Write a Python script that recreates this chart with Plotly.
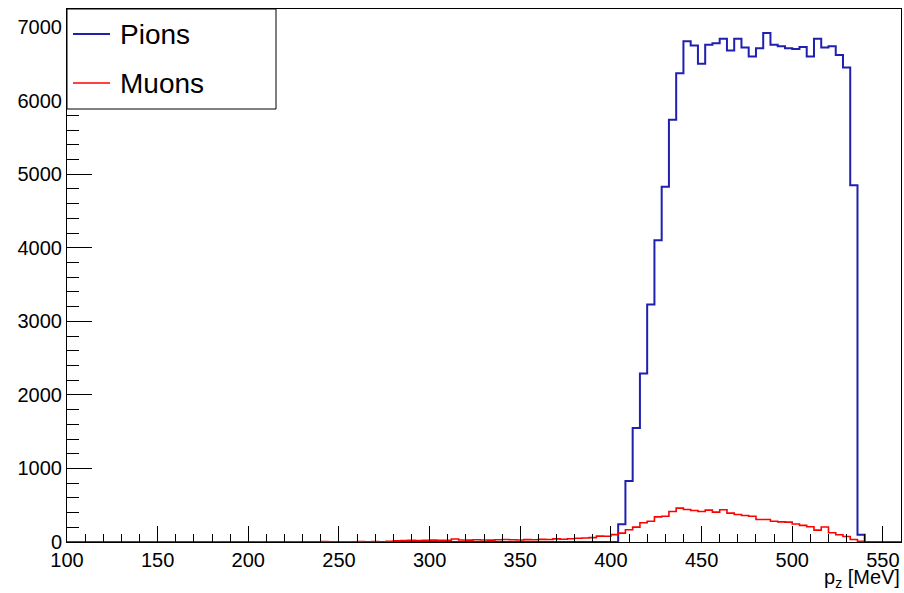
import plotly.graph_objects as go

# Histogram binning: 4 MeV bins from 100 to 560 MeV
bin_lo = 100
bin_width = 4
n_bins = 115
edges = [bin_lo + bin_width * k for k in range(n_bins + 1)]

# Pion counts per bin (p_z)
pions = [0] * 76 + [
    240, 830, 1550, 2290, 3230, 4100, 4830, 5740, 6370,
    6805, 6750, 6500, 6760, 6780, 6840, 6680, 6840, 6720, 6600,
    6710, 6920, 6760, 6740, 6710, 6700, 6730, 6600, 6840, 6720,
    6740, 6620, 6450,
    4850, 100,
] + [0] * 5

# Muon counts per bin (p_z)
muons = [
    0, 0, 0, 0, 0, 0, 0, 0, 0, 0,
    0, 0, 0, 0, 0, 0, 0, 0, 0, 0,
    2, 0, 0, 0, 0, 0, 3, 0, 0, 0,
    0, 4, 0, 0, 0, 5, 0, 0, 3, 0,
    5, 0, 6, 0, 8,
    18, 20, 22, 20, 22, 25, 22, 24, 40, 28,
    25, 30, 28, 26, 30, 34, 30, 28, 32, 30,
    36, 34, 42, 38, 45, 50, 55, 60, 80, 78,
    100, 120, 166, 202, 261, 283, 342, 351, 415, 460,
    442, 428, 415, 433, 406, 438, 392, 374, 360, 351,
    306, 306, 283, 274, 270, 245, 226, 207, 161, 204,
    125, 98, 75, 35, 10,
    0, 0, 0, 0, 0,
]

series = [("Pions", pions, "#1f1fb0", 2), ("Muons", muons, "#ff0000", 1.6)]


def step_xy(values):
    xs = edges[:-1] + [edges[-1]]
    ys = list(values) + [values[-1]]
    return xs, ys


fig = go.Figure()
for name, vals, color, width in series:
    xs, ys = step_xy(vals)
    fig.add_trace(go.Scatter(
        x=xs, y=ys, mode="lines", name=name,
        line=dict(color=color, width=width, shape="hv"),
        showlegend=False,
    ))

tick_font = dict(family="Liberation Sans, Arial, sans-serif", size=20, color="black")

fig.update_layout(
    width=904, height=593,
    margin=dict(l=67, r=3, t=9, b=51),
    paper_bgcolor="white", plot_bgcolor="white",
    xaxis=dict(
        range=[100, 560], showgrid=False, zeroline=False,
        showline=True, linecolor="black", linewidth=1, mirror=True,
        ticks="inside", ticklen=16, tickcolor="black", tickwidth=1,
        dtick=50, tick0=100, tickfont=tick_font,
        minor=dict(dtick=10, tick0=100, ticks="inside", ticklen=8,
                   tickcolor="black", tickwidth=1, showgrid=False),
    ),
    yaxis=dict(
        range=[0, 7245], showgrid=False, zeroline=False,
        showline=True, linecolor="black", linewidth=1, mirror=True,
        ticks="inside", ticklen=25, tickcolor="black", tickwidth=1,
        dtick=1000, tick0=0, tickformat="d", tickfont=tick_font,
        minor=dict(dtick=200, tick0=0, ticks="inside", ticklen=12,
                   tickcolor="black", tickwidth=1, showgrid=False),
    ),
)

# Axis title, right-aligned under the frame, bottom kept inside the page
fig.add_annotation(
    text="p<sub>z</sub> [MeV]", xref="paper", yref="paper",
    x=1, y=0, xanchor="right", yanchor="bottom", yshift=-50, showarrow=False,
    borderpad=0,
    font=dict(family="Liberation Sans, Arial, sans-serif", size=20, color="black"),
)

# Legend box in the top-left corner of the frame
plot_w = 904 - 67 - 3
plot_h = 593 - 9 - 51


def px_to_paper(px, py):
    return (px - 67) / plot_w, (593 - 51 - py) / plot_h


bx0, by0 = px_to_paper(67, 109)
bx1, by1 = px_to_paper(276, 9)
fig.add_shape(type="rect", xref="paper", yref="paper",
              x0=bx0, y0=by0, x1=bx1, y1=by1,
              line=dict(color="black", width=1), fillcolor="white", layer="above")

for (name, _, color, width), row_y in zip(series, [34, 83]):
    lx0, ly = px_to_paper(73, row_y)
    lx1, _ = px_to_paper(110, row_y)
    fig.add_shape(type="line", xref="paper", yref="paper",
                  x0=lx0, y0=ly, x1=lx1, y1=ly,
                  line=dict(color=color, width=width), layer="above")
    tx, _ = px_to_paper(118, row_y)
    fig.add_annotation(
        text=name, xref="paper", yref="paper", x=tx, y=ly,
        xanchor="left", yanchor="middle", showarrow=False,
        font=dict(family="Liberation Sans, Arial, sans-serif", size=28, color="black"),
    )

fig.write_html("out.html")
